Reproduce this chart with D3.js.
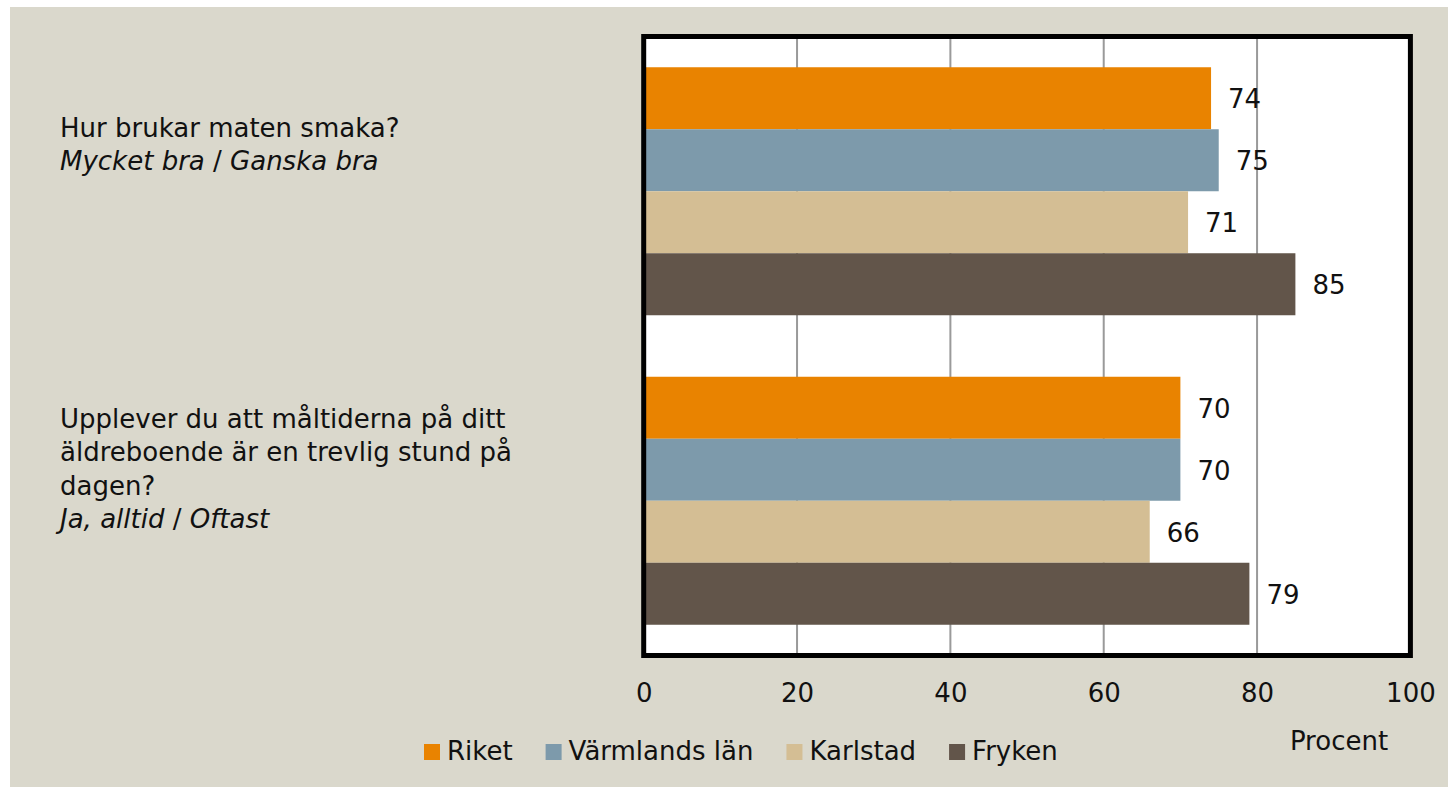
<!DOCTYPE html>
<html><head><meta charset="utf-8">
<script src="https://cdn.jsdelivr.net/npm/d3@7"></script>
<style>body{margin:0;background:#fff}svg{display:block}text{font-family:"DejaVu Sans",sans-serif;fill:#111}</style>
</head><body>
<svg id="c" width="1448" height="787"></svg>
<script>
const categories = ["q1", "q2"];
const questionLines = [
  [["Hur brukar maten smaka?"]],
  [["Upplever du att måltiderna på ditt"], ["äldreboende är en trevlig stund på"], ["dagen?"]]
];
const answerLines = [["Mycket bra", "Ganska bra"], ["Ja, alltid", "Oftast"]];
const series = ["Riket", "Värmlands län", "Karlstad", "Fryken"];
const riket = [74, 70];
const varmland = [75, 70];
const karlstad = [71, 66];
const fryken = [85, 79];
const values = [riket, varmland, karlstad, fryken];
const colors = ["#E98300", "#7D9AAB", "#D4BE94", "#62554A"];
const ticks = [0, 20, 40, 60, 80, 100];
const axisTitle = "Procent";

const svg = d3.select("#c");
svg.append("rect").attr("x", 10).attr("y", 7).attr("width", 1438).attr("height", 780).attr("fill", "#DAD8CC");

const x = d3.scaleLinear().domain([0, 100]).range([643.7, 1410.4]);
const y0 = d3.scaleBand().domain(categories).range([36.5, 655.5]);
const y1 = d3.scaleBand().domain(series).range([0, y0.bandwidth()]).paddingInner(0).paddingOuter(0.496);

svg.append("rect").attr("x", x(0)).attr("y", 36.5).attr("width", x(100) - x(0)).attr("height", 619).attr("fill", "#fff");

svg.append("g").selectAll("line").data(ticks.slice(1, -1)).join("line")
  .attr("x1", d => x(d)).attr("x2", d => x(d)).attr("y1", 36.5).attr("y2", 655.5)
  .attr("stroke", "#9a9a9a").attr("stroke-width", 2);

const rows = [];
categories.forEach((c, i) => series.forEach((s, j) => rows.push({c, s, v: values[j][i], col: colors[j]})));

svg.append("g").selectAll("rect").data(rows).join("rect")
  .attr("x", x(0)).attr("y", d => y0(d.c) + y1(d.s)).attr("width", d => x(d.v) - x(0)).attr("height", y1.bandwidth())
  .attr("fill", d => d.col);

svg.append("g").selectAll("text").data(rows).join("text")
  .attr("x", d => x(d.v) + 17).attr("y", d => y0(d.c) + y1(d.s) + y1.bandwidth() / 2 + 10)
  .attr("font-size", 26).text(d => d.v);

svg.append("rect").attr("x", x(0)).attr("y", 36.5).attr("width", x(100) - x(0)).attr("height", 619)
  .attr("fill", "none").attr("stroke", "#000").attr("stroke-width", 5);

const ax = svg.append("g").attr("transform", "translate(0,702)")
  .call(d3.axisBottom(x).tickValues(ticks).tickSize(0).tickPadding(0));
ax.select(".domain").remove();
ax.selectAll("text").attr("font-size", 26).attr("dy", 0).attr("font-family", "DejaVu Sans").attr("fill", "#111");

svg.append("text").attr("x", 1339).attr("y", 750).attr("text-anchor", "middle").attr("font-size", 26).text(axisTitle);

// question labels
const qBase = [137, 428];
categories.forEach((c, i) => {
  const lines = questionLines[i];
  lines.forEach((l, k) => {
    svg.append("text").attr("x", 60).attr("y", qBase[i] + k * 33.3).attr("font-size", 26).text(l[0]);
  });
  const t = svg.append("text").attr("x", 60).attr("y", qBase[i] + lines.length * 33.3).attr("font-size", 26);
  t.append("tspan").attr("font-style", "italic").text(answerLines[i][0]);
  t.append("tspan").text(" / ");
  t.append("tspan").attr("font-style", "italic").text(answerLines[i][1]);
});

// legend
let lx = 424;
series.forEach((s, j) => {
  svg.append("rect").attr("x", lx).attr("y", 744).attr("width", 16).attr("height", 16).attr("fill", colors[j]);
  const t = svg.append("text").attr("x", lx + 23).attr("y", 760).attr("font-size", 26).text(s);
  lx += 23 + t.node().getComputedTextLength() + 33;
});
</script>
</body></html>
